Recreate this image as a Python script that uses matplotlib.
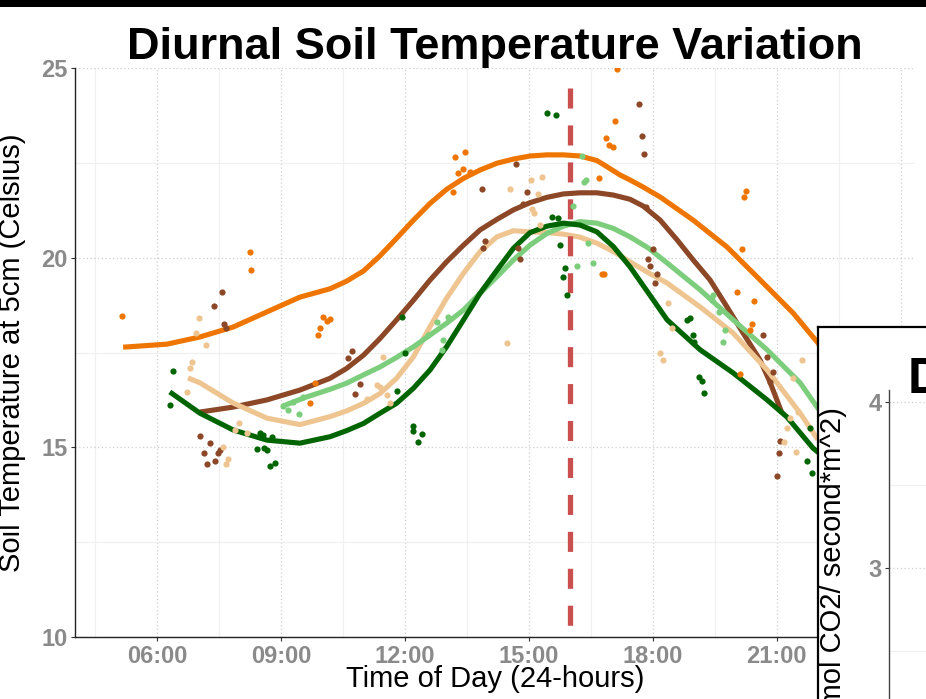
import numpy as np
import matplotlib
matplotlib.use("Agg")
import matplotlib.pyplot as plt
from matplotlib.ticker import FixedLocator, FuncFormatter

plt.rcParams['font.family'] = ['Liberation Sans', 'DejaVu Sans']

# ---- data (hours of day, soil temperature in Celsius) ----
series_names = ["orange", "brown", "tan", "lightgreen", "darkgreen"]
series_colors = ["#EE7600", "#8B4726", "#EEC591", "#7CCD7C", "#006400"]

# smoothed curves
orange_curve_h = [5.18, 6.24, 7.04, 7.84, 8.66, 9.46, 10.19, 10.59, 11.0, 11.4, 11.8, 12.21, 12.61,
                  13.01, 13.42, 13.82, 14.23, 14.63, 15.03, 15.44, 15.84, 16.24, 16.65, 16.89, 17.21,
                  17.45, 17.77, 18.18, 18.98, 19.8, 20.53, 21.4, 21.98, 22.3]
orange_curve_t = [17.64, 17.72, 17.91, 18.17, 18.57, 18.96, 19.18, 19.38, 19.65, 20.05, 20.51, 20.99,
                  21.43, 21.8, 22.09, 22.31, 22.49, 22.6, 22.68, 22.71, 22.71, 22.68, 22.56, 22.4,
                  22.18, 22.05, 21.86, 21.6, 20.99, 20.28, 19.49, 18.54, 17.78, 17.3]
brown_curve_h = [7.04, 7.84, 8.66, 9.46, 10.19, 10.59, 11.0, 11.4, 11.8, 12.21, 12.61, 13.01, 13.42,
                 13.82, 14.23, 14.63, 15.03, 15.44, 15.84, 16.24, 16.65, 17.05, 17.45, 17.77, 18.18,
                 18.59, 18.98, 19.39, 19.8, 20.19, 20.6, 20.84, 21.13]
brown_curve_t = [15.93, 16.06, 16.25, 16.51, 16.82, 17.08, 17.43, 17.87, 18.36, 18.88, 19.41, 19.89,
                 20.33, 20.73, 21.01, 21.26, 21.45, 21.59, 21.68, 21.71, 21.71, 21.65, 21.54, 21.36,
                 20.99, 20.47, 19.94, 19.41, 18.7, 18.01, 17.3, 16.72, 15.9]
tan_curve_h = [6.75, 7.04, 7.84, 8.66, 9.46, 10.19, 10.59, 11.0, 11.4, 11.8, 12.21, 12.61, 13.01, 13.42,
               13.82, 14.23, 14.63, 15.03, 15.44, 15.84, 16.24, 16.65, 17.05, 17.45, 17.9, 18.35, 19.15,
               19.95, 20.77, 21.57, 22.0]
tan_curve_t = [16.83, 16.7, 16.17, 15.77, 15.6, 15.81, 15.96, 16.16, 16.42, 16.82, 17.39, 18.18, 18.93,
               19.59, 20.16, 20.55, 20.71, 20.68, 20.66, 20.62, 20.54, 20.38, 20.16, 19.89, 19.6, 19.33,
               18.7, 18.01, 17.04, 15.9, 15.2]
lightgreen_curve_h = [9.05, 9.6, 10.19, 10.59, 11.0, 11.4, 11.8, 12.21, 12.61, 13.01, 13.42, 13.82,
                      14.23, 14.63, 15.03, 15.44, 15.84, 16.24, 16.65, 17.05, 17.45, 17.9, 18.35, 19.15,
                      19.95, 20.77, 21.57, 21.98, 22.3]
lightgreen_curve_t = [16.09, 16.32, 16.53, 16.69, 16.91, 17.12, 17.37, 17.65, 17.96, 18.27, 18.62, 19.06,
                      19.5, 19.94, 20.33, 20.64, 20.83, 20.95, 20.91, 20.77, 20.55, 20.25, 19.86, 19.15,
                      18.36, 17.57, 16.7, 16.06, 15.6]
darkgreen_curve_h = [6.31, 7.04, 7.84, 8.66, 9.46, 10.19, 10.59, 11.0, 11.4, 11.8, 12.21, 12.61, 13.01,
                     13.42, 13.82, 14.23, 14.63, 15.03, 15.44, 15.84, 16.24, 16.65, 17.05, 17.45, 17.94,
                     18.35, 19.15, 19.95, 20.77, 21.25, 21.88, 22.2]
darkgreen_curve_t = [16.46, 15.9, 15.46, 15.19, 15.11, 15.28, 15.44, 15.63, 15.9, 16.16, 16.56, 17.04,
                     17.65, 18.36, 19.06, 19.67, 20.25, 20.66, 20.83, 20.91, 20.86, 20.68, 20.29, 19.76,
                     19.0, 18.36, 17.57, 16.96, 16.25, 15.8, 14.98, 14.7]

# observations
orange_obs_h = [5.15, 8.25, 8.28, 10.01, 10.12, 10.19, 9.95, 9.9, 9.83, 9.7, 13.22, 13.46, 13.29, 13.4,
                13.58, 13.17, 17.14, 17.09, 16.87, 16.94, 17.04, 16.7, 20.26, 20.21, 20.16, 16.78,
                16.83, 20.04, 20.45, 20.4, 20.36, 20.12]
orange_obs_t = [18.46, 20.15, 19.67, 18.43, 18.33, 18.38, 18.15, 17.96, 16.7, 16.17, 22.65, 22.79, 22.23,
                22.34, 22.26, 21.73, 24.97, 23.6, 23.15, 22.97, 22.92, 22.1, 21.76, 21.6, 20.23, 19.57,
                19.57, 19.09, 18.86, 18.25, 18.09, 16.93]
brown_obs_h = [7.57, 7.38, 7.62, 7.67, 7.04, 7.28, 7.14, 7.48, 7.4, 7.21, 7.52, 10.62, 10.72, 10.92,
               10.8, 13.87, 14.69, 14.96, 14.87, 13.94, 13.89, 14.74, 14.79, 17.67, 17.74, 17.79,
               17.84, 18.01, 17.89, 17.94, 18.11, 18.06, 20.67, 20.77, 20.92, 20.84, 21.08, 21.06, 21.01]
brown_obs_t = [19.09, 18.73, 18.25, 18.15, 15.3, 15.11, 14.85, 14.85, 14.64, 14.56, 14.93, 17.35, 17.54,
               16.67, 16.41, 21.81, 22.47, 21.73, 21.41, 20.44, 20.25, 20.25, 19.96, 24.05, 23.21,
               22.73, 21.34, 20.23, 19.96, 19.78, 19.57, 19.33, 17.96, 17.38, 16.99, 16.72, 15.17,
               14.85, 14.24]
tan_obs_h = [7.02, 6.94, 7.19, 6.85, 6.8, 6.73, 7.6, 7.72, 7.67, 7.99, 7.89, 8.18, 11.33, 11.57, 11.64,
             11.08, 11.47, 11.4, 14.47, 14.55, 15.06, 15.32, 15.22, 15.08, 15.13, 15.27, 18.37, 18.47,
             18.18, 18.25, 21.62, 21.4, 21.52, 21.33, 21.25, 21.18, 21.47]
tan_obs_t = [18.41, 18.01, 17.7, 17.25, 17.09, 16.46, 15.01, 14.69, 14.56, 15.64, 15.46, 15.38, 16.64,
             16.38, 16.17, 16.27, 17.38, 16.59, 17.75, 21.81, 22.05, 22.13, 21.68, 21.28, 21.18, 20.86,
             18.8, 18.15, 17.49, 17.3, 17.3, 16.83, 15.93, 15.77, 15.51, 15.14, 14.88]
lightgreen_obs_h = [9.05, 9.17, 9.29, 9.44, 9.54, 12.78, 12.56, 12.93, 12.9, 13.05, 16.07, 16.29, 16.34,
                    16.39, 16.44, 16.17, 16.56, 19.46, 19.44, 19.61, 19.75, 19.7]
lightgreen_obs_t = [16.09, 15.98, 16.19, 15.88, 16.33, 18.3, 17.96, 17.83, 17.57, 18.44, 21.36, 22.68,
                    21.99, 22.05, 20.39, 19.78, 19.86, 19.01, 18.88, 18.57, 18.09, 17.78]
darkgreen_obs_h = [6.39, 6.31, 8.42, 8.59, 8.66, 8.74, 8.86, 8.49, 8.78, 8.56, 11.93, 12.0, 11.81, 12.2,
                   12.2, 12.42, 12.32, 15.44, 15.66, 15.56, 15.71, 15.76, 15.88, 15.83, 15.93, 18.84,
                   18.9, 18.98, 19.0, 19.12, 19.2, 19.24, 21.81, 21.74, 21.86]
darkgreen_obs_t = [17.01, 16.11, 14.95, 14.98, 14.93, 14.51, 14.59, 15.38, 15.27, 15.33, 18.44, 17.49,
                   16.48, 15.56, 15.43, 15.35, 15.14, 23.81, 23.76, 21.07, 21.05, 20.33, 19.73, 19.49,
                   19.02, 18.36, 18.41, 17.96, 17.78, 16.85, 16.75, 16.43, 15.51, 14.64, 14.32]

curves = [(orange_curve_h, orange_curve_t), (brown_curve_h, brown_curve_t),
          (tan_curve_h, tan_curve_t), (lightgreen_curve_h, lightgreen_curve_t),
          (darkgreen_curve_h, darkgreen_curve_t)]
observations = [(orange_obs_h, orange_obs_t), (brown_obs_h, brown_obs_t), (tan_obs_h, tan_obs_t),
                (lightgreen_obs_h, lightgreen_obs_t), (darkgreen_obs_h, darkgreen_obs_t)]

peak_hour = 16.0
hour_ticks = [6, 9, 12, 15, 18, 21, 24]
temp_ticks = [10, 15, 20, 25]
flux_ticks = [3, 4]

W, H = 926, 699
fig = plt.figure(figsize=(W / 100, H / 100), dpi=100)
fig.patch.set_facecolor("white")

def px_box(x0, y0, x1, y1):
    # pixel box (top-left origin) -> figure fraction rect
    return [x0 / W, 1 - y1 / H, (x1 - x0) / W, (y1 - y0) / H]

tick_gray = "#8A8A8A"

# ---- main panel ----
ax = fig.add_axes(px_box(75, 68, 915, 637))
ax.set_xlim(4.015, 24.35)
ax.set_ylim(10, 25)
ax.xaxis.set_major_locator(FixedLocator(hour_ticks))
ax.xaxis.set_minor_locator(FixedLocator(np.arange(4.5, 24.5, 3)))
ax.yaxis.set_major_locator(FixedLocator(temp_ticks))
ax.yaxis.set_minor_locator(FixedLocator([12.5, 17.5, 22.5]))
ax.xaxis.set_major_formatter(FuncFormatter(lambda v, p: "%02d:00" % int(v)))
ax.grid(which="major", color="#CFCFCF", linestyle=(0, (1, 2)), linewidth=0.9)
ax.grid(which="minor", color="#F0F0F0", linestyle="-", linewidth=0.9)
ax.set_axisbelow(True)
for s in ["top", "right"]:
    ax.spines[s].set_visible(False)
for s in ["left", "bottom"]:
    ax.spines[s].set_color("#222222")
    ax.spines[s].set_linewidth(1.0)
ax.tick_params(which="major", length=3, width=0.8, color="#333333", pad=2.5,
               labelsize=17, labelcolor=tick_gray)
ax.tick_params(which="minor", length=0)
for lab in ax.get_xticklabels() + ax.get_yticklabels():
    lab.set_fontweight("bold")

for (hh, tt), c in zip(curves, series_colors):
    ax.plot(hh, tt, color=c, linewidth=3.7, solid_capstyle="butt",
            solid_joinstyle="round", zorder=2)
ax.plot([peak_hour, peak_hour], [24.47, 10], color="#C9504F", linewidth=3.8,
        dashes=(3.8, 3.2), zorder=3)
for (hh, tt), c in zip(observations, series_colors):
    ax.scatter(hh, tt, s=20, color=c, linewidths=0, zorder=4)

ax.set_title("Diurnal Soil Temperature Variation", fontsize=32.5, fontweight="bold", pad=1)
ax.set_xlabel("Time of Day (24-hours)", fontsize=21)
ax.set_ylabel("Soil Temperature at 5cm (Celsius)", fontsize=21)
ax.xaxis.set_label_coords(0.5, -0.05)
ax.yaxis.set_label_coords(-0.058, 0.5)

# ---- overlapping second panel (partially visible) ----
box = fig.add_axes(px_box(818, 327, 940, 720))
box.set_facecolor("white")
box.set_xticks([])
box.set_yticks([])
for s in box.spines.values():
    s.set_color("black")
    s.set_linewidth(1.6)

ax2 = fig.add_axes(px_box(889, 390, 940, 733.6))
ax2.set_ylim(2.0, 4.07)
ax2.set_xlim(0, 1)
ax2.patch.set_alpha(0)
ax2.yaxis.set_major_locator(FixedLocator(flux_ticks))
ax2.yaxis.set_minor_locator(FixedLocator([2.5, 3.5]))
ax2.set_xticks([])
ax2.grid(which="major", axis="y", color="#CFCFCF", linestyle=(0, (1, 2)), linewidth=0.9)
ax2.grid(which="minor", axis="y", color="#F0F0F0", linestyle="-", linewidth=0.9)
for s in ["top", "right", "bottom"]:
    ax2.spines[s].set_visible(False)
ax2.spines["left"].set_color("#444444")
ax2.spines["left"].set_linewidth(1.0)
ax2.tick_params(which="major", length=3, width=0.8, color="#333333", pad=2.5,
                labelsize=17, labelcolor=tick_gray)
ax2.tick_params(which="minor", length=0)
for lab in ax2.get_yticklabels():
    lab.set_fontweight("bold")

fig.text(833 / W, 1 - 407 / H, "Flux (\u00b5mol CO2/ second*m^2)", rotation=90,
         fontsize=21, ha="center", va="top")
fig.text(908 / W, 1 - 393 / H, "D", fontsize=36, fontweight="bold", ha="left", va="baseline")

# black band along the top of the screenshot
band = fig.add_axes(px_box(0, 0, W, 7))
band.set_facecolor("black")
band.set_xticks([])
band.set_yticks([])
for s in band.spines.values():
    s.set_visible(False)

fig.savefig("out.png", dpi=100)
